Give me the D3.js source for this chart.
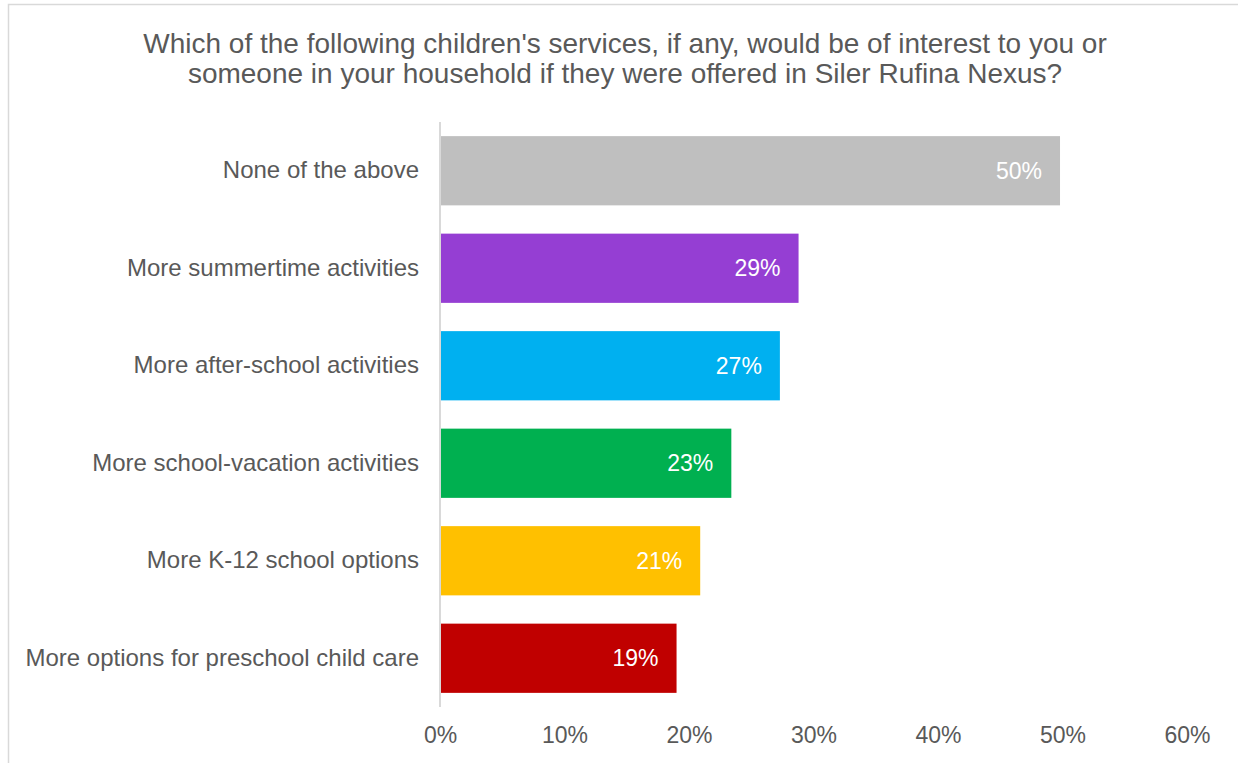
<!DOCTYPE html>
<html>
<head>
<meta charset="utf-8">
<script src="https://cdn.jsdelivr.net/npm/d3@7"></script>
<style>
  html, body { margin: 0; padding: 0; background: #ffffff; }
  svg { display: block; font-family: "Liberation Sans", Arial, sans-serif; }
</style>
</head>
<body>
<svg id="chart" width="1238" height="763"></svg>
<script>
// Survey responses, top to bottom
const categories = [
  "None of the above",
  "More summertime activities",
  "More after-school activities",
  "More school-vacation activities",
  "More K-12 school options",
  "More options for preschool child care"
];
const shares = [0.498, 0.288, 0.273, 0.234, 0.209, 0.190];
const barColors = ["#BFBFBF", "#953ED3", "#00B0F0", "#00B050", "#FFC000", "#C00000"];
const tickValues = [0, 0.1, 0.2, 0.3, 0.4, 0.5, 0.6];
const titleLines = [
  "Which of the following children's services, if any, would be of interest to you or",
  "someone in your household if they were offered in Siler Rufina Nexus?"
];

const svg = d3.select("#chart");
const textColor = "#595959";

// Outer frame
svg.append("rect")
  .attr("x", 8.5).attr("y", 4.5)
  .attr("width", 1300).attr("height", 800)
  .attr("fill", "none")
  .attr("stroke", "#D9D9D9")
  .attr("stroke-width", 1.5);

// Title
svg.append("g")
  .selectAll("text")
  .data(titleLines)
  .join("text")
  .attr("x", 625)
  .attr("y", (d, i) => 53 + i * 30)
  .attr("text-anchor", "middle")
  .attr("fill", textColor)
  .attr("font-size", 28)
  .text(d => d);

const x = d3.scaleLinear().domain([0, 0.6]).range([440, 1187]);
const y = d3.scaleBand().domain(categories).range([122, 707]).paddingInner(0.29).paddingOuter(0.145);

const rows = categories.map((c, i) => ({ cat: c, v: shares[i], color: barColors[i] }));

// Bars
svg.append("g")
  .selectAll("rect")
  .data(rows)
  .join("rect")
  .attr("x", x(0))
  .attr("y", d => y(d.cat))
  .attr("width", d => x(d.v) - x(0))
  .attr("height", y.bandwidth())
  .attr("fill", d => d.color);

// Value labels inside bar ends
const pct = d3.format(".0%");
svg.append("g")
  .selectAll("text")
  .data(rows)
  .join("text")
  .attr("x", d => x(d.v) - 18)
  .attr("y", d => y(d.cat) + y.bandwidth() / 2)
  .attr("dy", "0.35em")
  .attr("text-anchor", "end")
  .attr("fill", "#FFFFFF")
  .attr("font-size", 23)
  .text(d => pct(d.v));

// Category axis (left)
const yAxis = svg.append("g")
  .attr("transform", `translate(${x(0)},0)`)
  .call(d3.axisLeft(y).tickSize(0).tickPadding(21));
yAxis.select(".domain").remove();
yAxis.append("line")
  .attr("x1", 0).attr("x2", 0)
  .attr("y1", 122).attr("y2", 707)
  .attr("stroke", "#D9D9D9")
  .attr("stroke-width", 2);
yAxis.selectAll(".tick text")
  .attr("fill", textColor)
  .attr("font-size", 24)
  .attr("font-family", "Liberation Sans, Arial, sans-serif");

// Value axis (bottom), labels only
const xAxis = svg.append("g")
  .attr("transform", "translate(0,707)")
  .call(d3.axisBottom(x).tickValues(tickValues).tickFormat(pct).tickSize(0).tickPadding(20));
xAxis.select(".domain").remove();
xAxis.selectAll(".tick text")
  .attr("fill", textColor)
  .attr("font-size", 23)
  .attr("font-family", "Liberation Sans, Arial, sans-serif");
</script>
</body>
</html>
